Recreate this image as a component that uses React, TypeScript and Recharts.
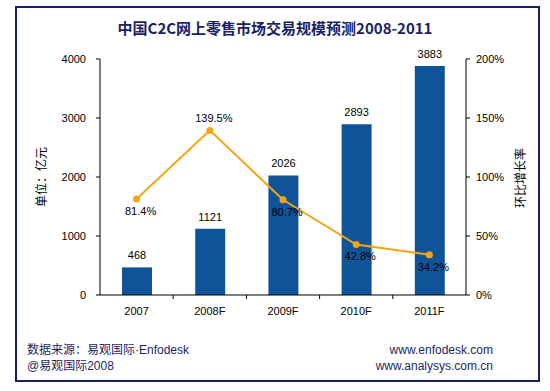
import { ComposedChart, Bar, Line, XAxis, YAxis, LabelList } from "recharts";

const years = ["2007", "2008F", "2009F", "2010F", "2011F"];
const scale = [468, 1121, 2026, 2893, 3883];
const growth = [81.4, 139.5, 80.7, 42.8, 34.2];
const leftTicks = [0, 1000, 2000, 3000, 4000];
const rightTicks = [0, 50, 100, 150, 200];

const data = years.map((y, i) => ({ year: y, scale: scale[i], growth: growth[i] }));

const FONT = "'Liberation Sans', 'Noto Sans CJK SC', Arial, sans-serif";
const NAVY = "#1b1f66";
const BAND = 366 / years.length;

function XTick(props: any) {
  const { x, y, index, payload } = props;
  return (
    <g>
      {index < years.length - 1 && (
        <line x1={x + BAND / 2} x2={x + BAND / 2} y1={y - 8} y2={y - 4} stroke="#000" />
      )}
      <text x={x} y={y + 12} textAnchor="middle" fontSize={11} fill="#000" fontFamily={FONT}>
        {payload.value}
      </text>
    </g>
  );
}

function GrowthLabel(props: any) {
  const { x, y, index, value } = props;
  const dy = index === 1 ? -8 : 16;
  return (
    <text x={x + 4} y={y + dy} textAnchor="middle" fontSize={11} fill="#000" fontFamily={FONT}>
      {value.toFixed(1)}%
    </text>
  );
}

export default function App() {
  return (
    <div style={{ position: "absolute", left: 0, top: 0, width: 550, height: 391, background: "#fff", fontFamily: FONT }}>
      <div style={{ position: "absolute", left: 15, top: 6, width: 525, height: 376, border: `2px solid ${NAVY}`, boxSizing: "border-box" }} />
      <div style={{ position: "absolute", left: 0, top: 17, width: 550, textAlign: "center", fontSize: 15, fontWeight: "bold", color: NAVY, fontFamily: "'Noto Sans CJK SC', sans-serif" }}>
        中国C2C网上零售市场交易规模预测2008-2011
      </div>
      <ComposedChart
        width={550}
        height={391}
        data={data}
        margin={{ top: 59, right: 24, bottom: 66, left: 40 }}
        style={{ position: "absolute", left: 0, top: 0 }}
      >
        <XAxis
          dataKey="year"
          height={30}
          stroke="#000"
          tickLine={false}
          tick={<XTick />}
          interval={0}
        />
        <YAxis
          yAxisId="l"
          width={60}
          domain={[0, 4000]}
          ticks={leftTicks}
          stroke="#000"
          tickSize={4}
          tickMargin={10}
          tick={{ fontSize: 11, fill: "#000", fontFamily: FONT }}
        />
        <YAxis
          yAxisId="r"
          orientation="right"
          width={60}
          domain={[0, 200]}
          ticks={rightTicks}
          tickFormatter={(v: number) => `${v}%`}
          stroke="#000"
          tickSize={4}
          tickMargin={6}
          tick={{ fontSize: 11, fill: "#000", fontFamily: FONT, textAnchor: "start" }}
        />
        <Bar yAxisId="l" dataKey="scale" fill="#0f5499" barSize={30} isAnimationActive={false}>
          <LabelList dataKey="scale" position="top" offset={8} fontSize={11} fill="#000" fontFamily={FONT} />
        </Bar>
        <Line
          yAxisId="r"
          dataKey="growth"
          stroke="#f3a514"
          strokeWidth={2}
          dot={{ r: 2.5, fill: "#f3a514", stroke: "#f3a514" }}
          isAnimationActive={false}
        >
          <LabelList dataKey="growth" content={<GrowthLabel />} />
        </Line>
      </ComposedChart>
      <div style={{ position: "absolute", left: 40, top: 177, transform: "translate(-50%, -50%) rotate(-90deg)", fontSize: 12, color: "#000", whiteSpace: "nowrap", fontFamily: "'Noto Sans CJK SC', sans-serif" }}>
        单位：亿元
      </div>
      <div style={{ position: "absolute", left: 519, top: 178, transform: "translate(-50%, -50%) rotate(-90deg)", fontSize: 12, color: "#000", whiteSpace: "nowrap", fontFamily: "'Noto Sans CJK SC', sans-serif" }}>
        环比增长率
      </div>
      <div style={{ position: "absolute", left: 27, top: 342, fontSize: 12, lineHeight: "16px", color: NAVY, fontFamily: "'Liberation Sans', 'Noto Sans CJK SC', sans-serif" }}>
        <div>数据来源：易观国际·Enfodesk</div>
        <div>@易观国际2008</div>
      </div>
      <div style={{ position: "absolute", right: 57, top: 342, fontSize: 12, lineHeight: "16px", color: NAVY, textAlign: "right", fontFamily: "'Liberation Sans', sans-serif" }}>
        <div>www.enfodesk.com</div>
        <div>www.analysys.com.cn</div>
      </div>
    </div>
  );
}
